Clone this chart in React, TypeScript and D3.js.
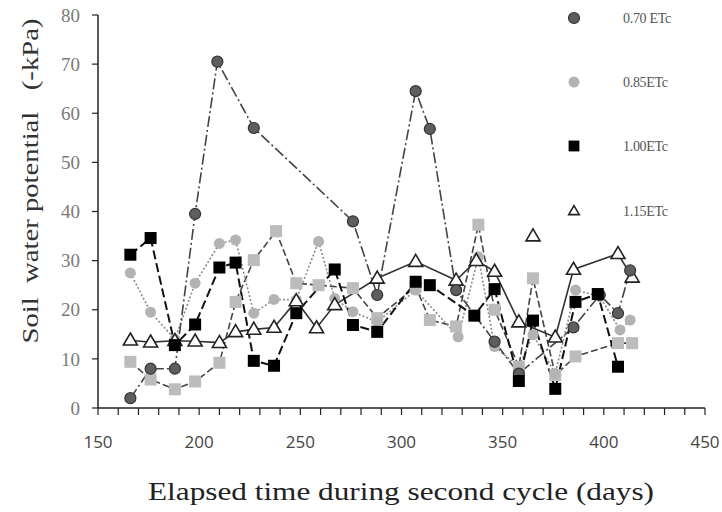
import React from "react";
import * as d3 from "d3";

// ---- data ----
const xTicks = [150, 200, 250, 300, 350, 400, 450];
const yTicks = [0, 10, 20, 30, 40, 50, 60, 70, 80];

const days070 = [166, 176, 188, 198, 209, 227, 276, 288, 307, 314, 327, 346, 358, 385, 398, 407, 413];
const vals070 = [2, 8, 8, 39.5, 70.5, 57, 38, 23, 64.5, 56.8, 24, 13.5, 7, 16.4, 23, 19.3, 28];

const days085 = [166, 176, 188, 198, 210, 218, 227, 237, 248, 259, 267, 276, 288, 307, 328, 338, 346, 358, 365, 376, 386, 398, 408, 413];
const vals085 = [27.5, 19.5, 14, 25.4, 33.5, 34.2, 19.3, 22.1, 22, 33.9, 22.3, 19.6, 17.5, 24, 14.5, 30.8, 12.5, 8.4, 14.9, 7, 24, 22.7, 15.9, 17.9];

const days100 = [166, 176, 188, 198, 210, 218, 227, 237, 248, 267, 276, 288, 307, 314, 336, 346, 358, 365, 376, 386, 397, 407];
const vals100 = [31.2, 34.6, 12.8, 17, 28.6, 29.6, 9.6, 8.6, 19.3, 28.2, 16.9, 15.5, 25.7, 25, 18.8, 24.2, 5.5, 17.8, 3.9, 21.6, 23.2, 8.4];

const days115 = [166, 176, 188, 198, 210, 218, 227, 237, 248, 258, 267, 288, 307, 327, 337, 346, 358, 376, 385, 407, 414];
const vals115 = [13.8, 13.4, 13.7, 13.6, 13.3, 15.5, 16, 16.4, 21.8, 16.3, 21, 26.4, 29.8, 26, 30, 27.8, 17.5, 14.4, 28.2, 31.4, 26.6];
const days115Extra = [365];
const vals115Extra = [35];

const daysSq = [166, 176, 188, 198, 210, 218, 227, 238, 248, 259, 276, 288, 307, 314, 327, 338, 346, 358, 365, 376, 386, 407, 414];
const valsSq = [9.4, 5.8, 3.8, 5.4, 9.2, 21.6, 30.1, 36, 25.4, 25, 24.4, 18.3, 24.7, 17.9, 16.6, 37.3, 20, 8.4, 26.4, 6.7, 10.5, 13.2, 13.2];

const legendLabels = ["0.70 ETc", "0.85ETc", "1.00ETc", "1.15ETc"];

// ---- layout ----
const W = 722, H = 512;
const x = d3.scaleLinear().domain([150, 450]).range([98, 705]);
const y = d3.scaleLinear().domain([0, 80]).range([408, 15]);

type Style = {
  marker: "circle" | "square" | "triangle";
  fill: string;
  stroke: string;
  lineColor: string;
  dash: string;
  lineWidth: number;
};

const series: { days: number[]; vals: number[]; style: Style }[] = [
  { days: daysSq, vals: valsSq, style: { marker: "square", fill: "#bcbcbc", stroke: "none", lineColor: "#444", dash: "7,3", lineWidth: 1.6 } },
  { days: days085, vals: vals085, style: { marker: "circle", fill: "#b3b3b3", stroke: "none", lineColor: "#8a8a8a", dash: "2,2", lineWidth: 1.6 } },
  { days: days115, vals: vals115, style: { marker: "triangle", fill: "#fff", stroke: "#222", lineColor: "#333", dash: "", lineWidth: 1.6 } },
  { days: days070, vals: vals070, style: { marker: "circle", fill: "#5e5e5e", stroke: "#333", lineColor: "#444", dash: "11,3,2,3", lineWidth: 1.6 } },
  { days: days100, vals: vals100, style: { marker: "square", fill: "#000", stroke: "none", lineColor: "#111", dash: "9,4", lineWidth: 2 } },
];

function Marker({ kind, cx, cy, fill, stroke, size = 1 }: { kind: string; cx: number; cy: number; fill: string; stroke: string; size?: number }) {
  if (kind === "circle") {
    return <circle cx={cx} cy={cy} r={5.5 * size} fill={fill} stroke={stroke} strokeWidth={1.2} />;
  }
  if (kind === "square") {
    const s = 12 * size;
    return <rect x={cx - s / 2} y={cy - s / 2} width={s} height={s} fill={fill} stroke={stroke} />;
  }
  const w = 14 * size, h = 12 * size;
  const p = `M${cx},${cy - h * 0.6} L${cx + w / 2},${cy + h * 0.4} L${cx - w / 2},${cy + h * 0.4} Z`;
  return <path d={p} fill={fill} stroke={stroke} strokeWidth={1.6} />;
}

export default function App() {
  const line = d3.line<[number, number]>().x((d) => x(d[0])).y((d) => y(d[1]));
  const minorTicks = d3.range(150, 451, 10);
  const legendStyles = [series[3].style, series[1].style, series[4].style, series[2].style];
  const legendY = [18, 82, 146, 211];

  return (
    <svg width={W} height={H} style={{ position: "absolute", left: 0, top: 0, background: "#fff" }}>
      {/* axes */}
      <line x1={98} x2={98} y1={y(80)} y2={y(0)} stroke="#222" strokeWidth={1.5} />
      <line x1={98} x2={705} y1={y(0)} y2={y(0)} stroke="#222" strokeWidth={1.5} />
      {yTicks.map((t) => (
        <g key={"y" + t}>
          <line x1={92} x2={98} y1={y(t)} y2={y(t)} stroke="#222" strokeWidth={1.2} />
          <text x={80} y={y(t)} dy="0.35em" textAnchor="end" fontFamily="Liberation Serif" fontSize={19} fill="#7a7a7a">
            {t}
          </text>
        </g>
      ))}
      {minorTicks.map((t) => (
        <line key={"xt" + t} x1={x(t)} x2={x(t)} y1={y(0)} y2={y(0) + 7} stroke="#222" strokeWidth={1.2} />
      ))}
      {xTicks.map((t) => (
        <text key={"xl" + t} x={x(t)} y={448} textAnchor="middle" fontFamily="Open Sans" fontSize={17} fill="#444">
          {t}
        </text>
      ))}
      <text x={401} y={500} textAnchor="middle" fontFamily="Liberation Serif" fontSize={25} fill="#222"
        textLength={506} lengthAdjust="spacingAndGlyphs">
        Elapsed time during second cycle (days)
      </text>
      <text
        transform={`translate(38,181) rotate(-90)`}
        textAnchor="middle"
        fontFamily="Liberation Serif"
        fontSize={23}
        fill="#333"
        textLength={325}
        lengthAdjust="spacingAndGlyphs"
        style={{ whiteSpace: "pre" }}
      >
        {"Soil  water potential   (-kPa)"}
      </text>

      {/* lines */}
      {series.map((s, i) => (
        <path
          key={"l" + i}
          d={line(s.days.map((d, j) => [d, s.vals[j]] as [number, number])) || ""}
          fill="none"
          stroke={s.style.lineColor}
          strokeWidth={s.style.lineWidth}
          strokeDasharray={s.style.dash || undefined}
        />
      ))}
      {/* markers */}
      {series.map((s, i) => (
        <g key={"m" + i}>
          {s.days.map((d, j) => (
            <Marker key={j} kind={s.style.marker} cx={x(d)} cy={y(s.vals[j])} fill={s.style.fill} stroke={s.style.stroke} />
          ))}
        </g>
      ))}
      {days115Extra.map((d, j) => (
        <Marker key={"e" + j} kind="triangle" cx={x(d)} cy={y(vals115Extra[j])} fill="#fff" stroke="#222" />
      ))}

      {/* legend */}
      {legendLabels.map((lab, i) => (
        <g key={"lg" + i}>
          <Marker
            kind={legendStyles[i].marker}
            cx={574}
            cy={legendY[i]}
            fill={legendStyles[i].fill}
            stroke={legendStyles[i].stroke}
            size={legendStyles[i].marker === "square" ? 0.9 : legendStyles[i].marker === "triangle" ? 0.75 : 1}
          />
          <text x={623} y={legendY[i]} dy="0.35em" fontFamily="Liberation Serif" fontSize={14} fill="#555" letterSpacing={-0.3}>
            {lab}
          </text>
        </g>
      ))}
    </svg>
  );
}
